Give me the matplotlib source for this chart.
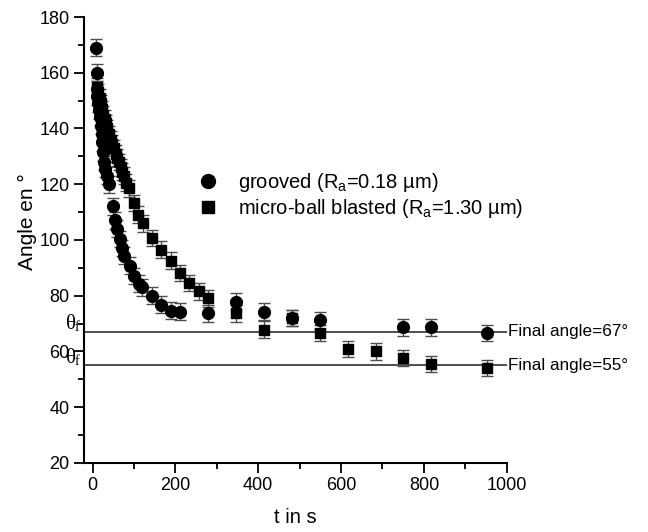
import matplotlib
matplotlib.use("Agg")
import matplotlib.pyplot as plt
from matplotlib.lines import Line2D

plt.rcParams['font.family'] = ['Liberation Sans', 'DejaVu Sans']
plt.rcParams['mathtext.fontset'] = 'custom'
plt.rcParams['mathtext.rm'] = 'Liberation Sans'
plt.rcParams['mathtext.it'] = 'Liberation Sans:italic'

# grooved surface (circles)
t_groove = [9, 11, 10, 12, 14, 16, 18, 20, 22, 24, 26, 28, 31, 34, 40, 50, 54, 58,
            66, 72, 76, 90, 100, 112, 120, 144, 166, 189, 212, 279, 347, 414, 482,
            548, 750, 818, 953]
a_groove = [169, 160, 154, 151.5, 149, 146.5, 144, 141, 138, 135, 131.5, 128, 125.5,
            123, 120, 112, 107, 104, 100.3, 97.1, 94.3, 90.7, 87.1, 84.3, 83, 80,
            76.7, 74.6, 74.3, 73.7, 77.8, 74.3, 72, 71.1, 68.7, 68.7, 66.6]

# micro-ball blasted surface (squares)
t_blast = [12, 14, 17, 20, 23, 26, 29, 32, 36, 40, 44, 48, 52, 56, 60, 64, 68, 72,
           76, 82, 88, 100, 110, 122, 144, 166, 189, 212, 234, 256, 279, 347, 414,
           482, 548, 616, 684, 750, 818, 953]
a_blast = [155, 153, 151, 149, 147, 145, 143.5, 142, 140, 138, 136, 134.5, 133, 131,
           129.5, 128, 126, 124.5, 123, 120.5, 118.5, 113.3, 109, 106, 100.7, 96.5,
           92.6, 88.1, 84.5, 81.5, 79, 73.7, 67.8, 72, 66.6, 60.9, 60, 57.6, 55.5, 54]

err = 3
final_angles = [67, 55]
final_labels = ['Final angle=67°', 'Final angle=55°']

fig = plt.figure(figsize=(6.48, 5.32), dpi=100)
ax = fig.add_axes([0.130, 0.130, 0.652, 0.838])

for y in final_angles:
    ax.plot([-20, 1000], [y, y], color='0.25', lw=1.3, zorder=1)

ax.errorbar(t_groove, a_groove, yerr=err, fmt='o', color='black', ms=8.5,
            ecolor='0.3', elinewidth=1, capsize=4, capthick=1, zorder=3)
ax.errorbar(t_blast, a_blast, yerr=err, fmt='s', color='black', ms=7,
            ecolor='0.3', elinewidth=1, capsize=4, capthick=1, zorder=3)

ytf = ax.get_yaxis_transform()
for y, lab in zip(final_angles, final_labels):
    ax.text(1003, y, lab, fontsize=12.3, va='center', ha='left', clip_on=False)
    # theta_f marker on the left, serif like the original
    ax.text(-0.043, y + 2.6, 'θ', transform=ytf, fontsize=15, va='center', ha='left',
            family='Liberation Serif')
    ax.text(-0.022, y + 1.4, 'f', transform=ytf, fontsize=10, va='center', ha='left',
            family='Liberation Serif')

ax.set_xlim(-20, 1000)
ax.set_ylim(20, 180)
ax.set_xticks(range(0, 1001, 200))
ax.set_xticks(range(100, 1000, 200), minor=True)
ax.set_yticks(range(20, 181, 20))
ax.set_yticks(range(30, 180, 20), minor=True)
ax.spines['top'].set_visible(False)
ax.spines['right'].set_visible(False)
ax.spines['left'].set_linewidth(1.5)
ax.spines['bottom'].set_linewidth(1.5)
ax.tick_params(which='major', direction='out', length=7, width=1.3, labelsize=13)
ax.tick_params(which='minor', direction='out', length=4, width=1.3)

ax.set_xlabel('t in s', fontsize=14.5, labelpad=10)
fig.text(27 / 648, 1 - 222 / 532, 'Angle en °', rotation=90, fontsize=15,
         ha='center', va='center')

handles = [Line2D([], [], ls='none', marker='o', color='black', ms=10),
           Line2D([], [], ls='none', marker='s', color='black', ms=8)]
labels = [r'grooved (R$_\mathrm{a}$=0.18 µm)', r'micro-ball blasted (R$_\mathrm{a}$=1.30 µm)']
ax.legend(handles, labels, frameon=False, fontsize=14.5, loc='upper left',
          bbox_to_anchor=(190 / 648, 1 - 161 / 532), bbox_transform=fig.transFigure,
          handletextpad=1.1, labelspacing=0.15, handlelength=0.8, borderpad=0)

fig.savefig('out.png', dpi=100)
